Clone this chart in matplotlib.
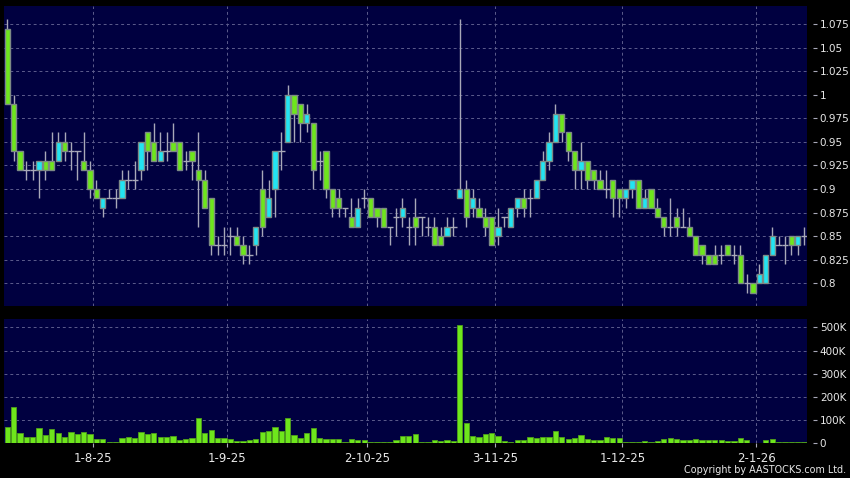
import numpy as np
import matplotlib
matplotlib.use("Agg")
import matplotlib.pyplot as plt

# daily bars, 14-7-25 .. 13-1-26
opens = [1.07, 0.99, 0.94, 0.92, 0.92, 0.92, 0.93, 0.93, 0.93, 0.95,
         0.94, 0.94, 0.93, 0.92, 0.90, 0.88, 0.89, 0.89, 0.89, 0.91,
         0.91, 0.92, 0.96, 0.95, 0.93, 0.94, 0.95, 0.95, 0.93, 0.94,
         0.92, 0.91, 0.89, 0.84, 0.84, 0.85, 0.85, 0.84, 0.83, 0.84,
         0.90, 0.87, 0.90, 0.94, 0.95, 1.00, 0.99, 0.97, 0.97, 0.93,
         0.94, 0.90, 0.89, 0.88, 0.87, 0.86, 0.89, 0.89, 0.88, 0.88,
         0.86, 0.87, 0.87, 0.86, 0.87, 0.87, 0.86, 0.86, 0.85, 0.85,
         0.86, 0.89, 0.90, 0.88, 0.88, 0.87, 0.87, 0.85, 0.87, 0.86,
         0.88, 0.89, 0.89, 0.89, 0.91, 0.93, 0.95, 0.98, 0.96, 0.94,
         0.92, 0.93, 0.92, 0.91, 0.90, 0.91, 0.90, 0.89, 0.90, 0.91,
         0.88, 0.90, 0.88, 0.87, 0.86, 0.87, 0.86, 0.86, 0.85, 0.84,
         0.83, 0.83, 0.83, 0.84, 0.83, 0.83, 0.80, 0.80, 0.80, 0.80,
         0.83, 0.84, 0.84, 0.85, 0.84, 0.85]
highs = [1.08, 1.00, 0.94, 0.93, 0.93, 0.93, 0.94, 0.96, 0.96, 0.96,
         0.95, 0.94, 0.96, 0.93, 0.91, 0.89, 0.90, 0.90, 0.92, 0.92,
         0.93, 0.95, 0.96, 0.97, 0.96, 0.96, 0.97, 0.95, 0.94, 0.94,
         0.96, 0.92, 0.89, 0.85, 0.86, 0.86, 0.86, 0.85, 0.84, 0.86,
         0.92, 0.91, 0.94, 0.96, 1.01, 1.00, 0.99, 0.99, 0.97, 0.94,
         0.94, 0.90, 0.90, 0.88, 0.89, 0.89, 0.90, 0.89, 0.88, 0.88,
         0.86, 0.88, 0.89, 0.87, 0.89, 0.87, 0.87, 0.87, 0.86, 0.87,
         0.87, 1.08, 0.91, 0.90, 0.89, 0.88, 0.87, 0.88, 0.87, 0.88,
         0.89, 0.90, 0.90, 0.91, 0.94, 0.96, 0.99, 0.98, 0.96, 0.94,
         0.95, 0.93, 0.92, 0.92, 0.92, 0.91, 0.90, 0.90, 0.91, 0.91,
         0.90, 0.90, 0.89, 0.87, 0.89, 0.88, 0.88, 0.87, 0.85, 0.84,
         0.83, 0.84, 0.84, 0.84, 0.84, 0.84, 0.81, 0.80, 0.82, 0.83,
         0.86, 0.85, 0.85, 0.85, 0.85, 0.86]
lows = [0.99, 0.93, 0.92, 0.91, 0.91, 0.89, 0.91, 0.92, 0.93, 0.93,
        0.92, 0.91, 0.92, 0.89, 0.89, 0.87, 0.89, 0.88, 0.89, 0.90,
        0.90, 0.91, 0.92, 0.93, 0.93, 0.93, 0.94, 0.92, 0.92, 0.91,
        0.86, 0.88, 0.83, 0.83, 0.83, 0.83, 0.84, 0.82, 0.82, 0.83,
        0.85, 0.87, 0.87, 0.92, 0.95, 0.95, 0.95, 0.96, 0.90, 0.91,
        0.89, 0.87, 0.87, 0.87, 0.86, 0.86, 0.88, 0.87, 0.86, 0.86,
        0.84, 0.85, 0.86, 0.84, 0.84, 0.85, 0.85, 0.84, 0.84, 0.85,
        0.85, 0.89, 0.86, 0.87, 0.87, 0.85, 0.84, 0.84, 0.86, 0.86,
        0.87, 0.87, 0.87, 0.89, 0.91, 0.92, 0.95, 0.95, 0.93, 0.90,
        0.90, 0.90, 0.90, 0.90, 0.89, 0.87, 0.87, 0.88, 0.89, 0.88,
        0.88, 0.88, 0.87, 0.85, 0.85, 0.85, 0.86, 0.85, 0.83, 0.82,
        0.82, 0.82, 0.82, 0.83, 0.82, 0.80, 0.79, 0.79, 0.80, 0.80,
        0.83, 0.84, 0.82, 0.83, 0.83, 0.84]
closes = [0.99, 0.94, 0.92, 0.92, 0.92, 0.93, 0.92, 0.92, 0.95, 0.94,
          0.94, 0.94, 0.92, 0.90, 0.89, 0.89, 0.89, 0.89, 0.91, 0.91,
          0.91, 0.95, 0.94, 0.93, 0.94, 0.94, 0.94, 0.92, 0.93, 0.93,
          0.91, 0.88, 0.84, 0.84, 0.84, 0.85, 0.84, 0.83, 0.83, 0.86,
          0.86, 0.89, 0.94, 0.94, 1.00, 0.98, 0.97, 0.98, 0.92, 0.93,
          0.90, 0.88, 0.88, 0.88, 0.86, 0.88, 0.89, 0.87, 0.87, 0.86,
          0.86, 0.87, 0.88, 0.86, 0.86, 0.87, 0.86, 0.84, 0.84, 0.86,
          0.86, 0.90, 0.87, 0.89, 0.87, 0.86, 0.84, 0.86, 0.87, 0.88,
          0.89, 0.88, 0.89, 0.91, 0.93, 0.95, 0.98, 0.96, 0.94, 0.92,
          0.93, 0.91, 0.91, 0.90, 0.90, 0.89, 0.89, 0.90, 0.91, 0.88,
          0.89, 0.88, 0.87, 0.86, 0.86, 0.86, 0.86, 0.85, 0.83, 0.83,
          0.82, 0.82, 0.83, 0.83, 0.83, 0.80, 0.80, 0.79, 0.81, 0.83,
          0.85, 0.84, 0.84, 0.84, 0.85, 0.85]
# volume in thousands of shares
volumes = [72, 155, 43, 27, 27, 66, 36, 63, 46, 27,
           47, 39, 49, 42, 19, 19, 7, 7, 23, 26,
           23, 50, 42, 45, 26, 26, 33, 16, 20, 22,
           108, 45, 57, 22, 24, 19, 11, 11, 14, 20,
           49, 53, 72, 55, 109, 36, 23, 46, 66, 24,
           20, 20, 17, 7, 17, 16, 16, 4, 4, 4,
           6, 16, 32, 30, 40, 5, 6, 16, 9, 13,
           9, 509, 89, 34, 27, 39, 46, 32, 10, 7,
           14, 16, 26, 23, 29, 29, 53, 26, 20, 23,
           36, 20, 13, 14, 26, 23, 23, 6, 7, 7,
           10, 6, 10, 19, 24, 19, 16, 14, 20, 13,
           13, 13, 13, 10, 10, 24, 13, 3, 3, 14,
           17, 6, 6, 6, 6, 6]

# first trading day of each month -> bar index
month_idx = [14, 35, 57, 77, 97, 118]
month_lbl = ['1-8-25', '1-9-25', '2-10-25', '3-11-25', '1-12-25', '2-1-26']

price_ticks = [0.8, 0.825, 0.85, 0.875, 0.9, 0.925, 0.95, 0.975, 1.0, 1.025, 1.05, 1.075]
price_lbls = ['0.8', '0.825', '0.85', '0.875', '0.9', '0.925', '0.95', '0.975', '1', '1.025', '1.05', '1.075']
vol_ticks = [0, 100, 200, 300, 400, 500]
vol_lbls = ['0', '100K', '200K', '300K', '400K', '500K']

BG = '#000040'
UP = '#22e4f2'
DN = '#6ee61c'
EDGE = '#7d8a86'
WICK = '#a8a8b8'
GRID = '#5c5c8c'
TXT = '#e8e8e8'

o = np.array(opens); h = np.array(highs); l = np.array(lows); c = np.array(closes)
v = np.array(volumes)
x = np.arange(len(o))

fig = plt.figure(figsize=(8.5, 4.78), dpi=100, facecolor='black')
ax1 = fig.add_axes([4/850, 1-306/478, 803.3/850, 300/478])
ax2 = fig.add_axes([4/850, 1-443.4/478, 803.3/850, 124.4/478], sharex=ax1)

for ax in (ax1, ax2):
    ax.set_facecolor(BG)
    for s in ax.spines.values():
        s.set_visible(False)
    ax.yaxis.tick_right()
    ax.spines['right'].set_position(('outward', 4))
    ax.tick_params(axis='y', colors=WICK, labelcolor=TXT, labelsize=7.5, length=3, pad=2)
    ax.set_axisbelow(True)
    for m in month_idx:
        ax.axvline(m - 0.5, color=GRID, lw=0.7, ls=(0, (3, 3)), zorder=0)

# candles
ax1.vlines(x, l, h, color=WICK, lw=1, zorder=1)
up = c > o
dn = c < o
eq = c == o
ax1.bar(x[up], (c - o)[up], bottom=o[up], width=0.82, color=UP, edgecolor=EDGE, lw=1, zorder=2)
ax1.bar(x[dn], (o - c)[dn], bottom=c[dn], width=0.82, color=DN, edgecolor=EDGE, lw=1, zorder=2)
ax1.hlines(c[eq], x[eq] - 0.5, x[eq] + 0.5, color=WICK, lw=1, zorder=2)

ax1.set_ylim(0.7758, 1.0941)
ax1.set_yticks(price_ticks)
ax1.set_yticklabels(price_lbls)
ax1.grid(axis='y', color=GRID, lw=0.7, ls=(0, (3, 3)))
ax1.tick_params(axis='x', bottom=False, labelbottom=False)

# volume
ax2.bar(x, v, width=0.82, color=DN, edgecolor='#4fa01a', lw=0.6, zorder=2)
ax2.set_ylim(0, 536)
ax2.set_yticks(vol_ticks)
ax2.set_yticklabels(vol_lbls)
ax2.grid(axis='y', color=GRID, lw=0.7, ls=(0, (3, 3)))
ax2.set_xlim(-0.5, len(o) - 0.5)
ax2.set_xticks([m - 0.5 for m in month_idx])
ax2.set_xticklabels(month_lbl)
ax2.tick_params(axis='x', colors=WICK, labelcolor=TXT, labelsize=8.5, length=3, pad=3.5)

fig.text(846/850, 3/478, 'Copyright by AASTOCKS.com Ltd.', color=TXT, fontsize=6.9,
         ha='right', va='bottom')

fig.savefig('out.png', dpi=100, facecolor='black')
